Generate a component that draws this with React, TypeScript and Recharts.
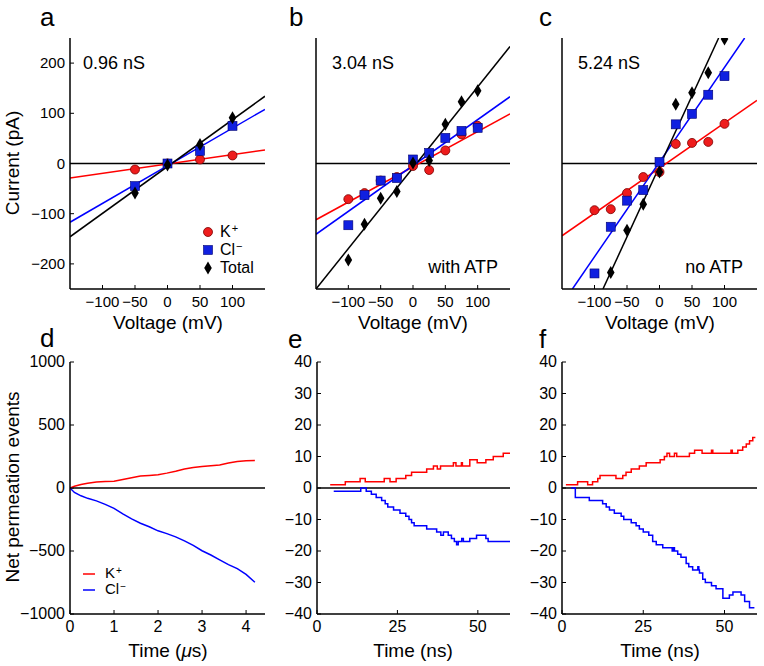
import React from 'react';
import { ComposedChart, LineChart, Line, Scatter, XAxis, YAxis, ReferenceLine, Legend } from 'recharts';

const FONT = '"Liberation Sans", Arial, Helvetica, sans-serif';
const RED = '#ff0000';
const BLUE = '#0000ff';

// ---- I-V data (current in pA vs voltage in mV) ----
const A_VOLTS = [-50, 0, 50, 100];
const A_K = [-12, 0, 8, 16];
const A_CL = [-45, 0, 25, 75];
const A_TOTAL = [-59, -3, 38, 91];

const IV_VOLTS = [-100, -75, -50, -25, 0, 25, 50, 75, 100];
const B_K = [-71, -59, -34, -27, -5, -13, 26, 58, 75];
const B_CL = [-123, -63, -34, -29, 8, 21, 51, 65, 71];
const B_TOTAL = [-192, -121, -69, -56, 1, 6, 78, 123, 145];

const C_K = [-93, -91, -59, -27, -17, 39, 41, 43, 79];
const C_CL = [-219, -126, -74, -53, 3, 78, 99, 137, 174];
const C_TOTAL_VOLTS = [-75, -50, -25, 0, 25, 50, 75, 100];
const C_TOTAL = [-217, -133, -81, -17, 118, 141, 181, 248];

// fitted lines: end voltages and end currents
const FIT_V = [-150, 150];
const A_FIT_K = [-29, 27];
const A_FIT_CL = [-117, 108];
const A_FIT_TOTAL = [-146, 134];
const B_FIT_K = [-112, 99];
const B_FIT_CL = [-141, 133];
const B_FIT_TOTAL = [-250, 233];
const C_FIT_K = [-144, 126];
const C_FIT_CL_V = [-134, 131];
const C_FIT_CL = [-250, 250];
const C_FIT_TOTAL_V = [-87, 91];
const C_FIT_TOTAL = [-250, 250];

// ---- net permeation events ----
const D_TIME = [0, 0.1, 0.25, 0.4, 0.6, 0.8, 1.0, 1.2, 1.4, 1.6, 1.8, 2.0, 2.2, 2.4, 2.6, 2.8, 3.0, 3.2, 3.4, 3.6, 3.8, 4.0, 4.2];
const D_K = [0, 14, 28, 38, 48, 52, 53, 68, 82, 95, 100, 106, 118, 133, 150, 162, 170, 177, 183, 198, 210, 216, 218];
const D_CL = [0, -35, -62, -82, -102, -130, -162, -205, -245, -280, -308, -340, -362, -388, -420, -456, -498, -532, -570, -608, -640, -686, -748];

const E_K_T = [4.1, 8.8, 13.4, 15.0, 20.9, 22.7, 24.6, 27.6, 29.4, 34.1, 36.2, 37.4, 38.4, 42.4, 43.2, 44.9, 45.2, 47.5, 49.8, 52.5, 54.8, 57.9, 60];
const E_K = [1, 2, 3, 2, 3, 2, 3, 4, 5, 6, 7, 6, 7, 8, 7, 8, 7, 9, 8, 9, 10, 11, 11];
const E_CL_T = [5.2, 13.6, 15.3, 16.9, 18.4, 20.1, 21.2, 22, 23.8, 25.8, 27.6, 28.6, 29.4, 30.2, 34.1, 37.2, 38.5, 39.3, 40.8, 41.8, 42.7, 43.4, 43.9, 45, 45.5, 47.5, 49.6, 52.5, 53.2, 60];
const E_CL = [-1, 0, -1, -2, -3, -4, -5, -6, -7, -8, -9, -10, -11, -12, -13, -14, -15, -14, -15, -16, -17, -18, -17, -16, -17, -16, -15, -16, -17, -17];

const F_K_T = [1.2, 4.8, 7.9, 9.4, 11, 11.7, 16.6, 18.7, 19.7, 21.3, 23.8, 25.9, 30.2, 31.5, 32.3, 33.1, 34.6, 35.3, 39.2, 40.8, 43.1, 46, 46.4, 52, 52.4, 53.6, 54.1, 55.6, 56.7, 57.7, 58.7, 59.5];
const F_K = [1, 2, 1, 2, 3, 4, 3, 4, 5, 6, 7, 8, 9, 10, 11, 10, 11, 10, 11, 12, 11, 12, 11, 12, 11, 11, 12, 13, 14, 15, 16, 16];
const F_CL_T = [2.8, 4.1, 8.4, 12.5, 13.6, 14.6, 16.1, 18.2, 19, 21.3, 22.8, 23.8, 25, 26.7, 27.9, 29, 31, 33.9, 34.3, 34.6, 35.6, 36.6, 38.2, 39, 40.2, 41.8, 42.1, 42.3, 43.3, 44.1, 46, 47.4, 49.5, 51.5, 52.6, 55.1, 56.2, 57.7, 59.2];
const F_CL = [0, -3, -4, -5, -6, -7, -8, -9, -10, -11, -12, -13, -14, -15, -17, -18, -19, -20, -19, -20, -21, -22, -24, -25, -26, -25, -26, -27, -29, -30, -31, -32, -35, -34, -33, -34, -36, -38, -38];

// tick labels
const IV_X_TICKS = [-100, -50, 0, 50, 100];
const IV_Y_TICKS = [-200, -100, 0, 100, 200];
const D_X_TICKS = [0, 1, 2, 3, 4];
const D_Y_TICKS = [-1000, -500, 0, 500, 1000];
const NS_X_TICKS = [0, 25, 50];
const NS_Y_TICKS = [-40, -30, -20, -10, 0, 10, 20, 30, 40];

const ION_NAMES = ['K', 'Cl', 'Total'];
const ION_CHARGES = ['+', '\u2212', ''];

const pts = (xs: number[], ys: number[]) => xs.map((x, i) => ({ x, y: ys[i] }));
const fmt = (v: number) => String(v).replace('-', '\u2212');

const XTick = (p: any) => {
  const { x, y, payload, size } = p;
  return (
    <g>
      <line x1={x} x2={x} y1={y - 6} y2={y - 10} stroke="#000" strokeWidth={1} />
      <text x={x} y={y + 12} textAnchor="middle" fontSize={size} fontFamily={FONT} fill="#000">
        {fmt(payload.value)}
      </text>
    </g>
  );
};

const YTick = (p: any) => {
  const { x, y, payload, size } = p;
  return (
    <g>
      <line x1={x + 6} x2={x + 10} y1={y} y2={y} stroke="#000" strokeWidth={1} />
      <text x={x + 1} y={y + 5} textAnchor="end" fontSize={size} fontFamily={FONT} fill="#000">
        {fmt(payload.value)}
      </text>
    </g>
  );
};

const Dot = ({ cx, cy }: any) => <circle cx={cx} cy={cy} r={4.5} fill="#ee1c1c" stroke="#7a0000" strokeWidth={0.8} />;
const Square = ({ cx, cy }: any) => (
  <rect x={cx - 4.5} y={cy - 4.5} width={9} height={9} fill="#1020e0" stroke="#000070" strokeWidth={0.6} />
);
const Diamond = ({ cx, cy }: any) => (
  <path d={`M${cx},${cy - 6.5}L${cx + 3.8},${cy}L${cx},${cy + 6.5}L${cx - 3.8},${cy}Z`} fill="#000" />
);
const MARKERS = [Dot, Square, Diamond];

const IVLegend = () => (
  <div style={{ fontFamily: FONT, fontSize: 16, color: '#000' }}>
    {ION_NAMES.map((name, i) => {
      const M = MARKERS[i];
      return (
        <div key={name} style={{ display: 'flex', alignItems: 'center', height: 18 }}>
          <svg width={16} height={18} style={{ marginLeft: 14 }}>
            <M cx={8} cy={9} />
          </svg>
          <span style={{ marginLeft: 4, lineHeight: '18px' }}>
            {name}
            <span style={{ fontSize: 11, position: 'relative', top: -5, marginLeft: 1 }}>{ION_CHARGES[i]}</span>
          </span>
        </div>
      );
    })}
  </div>
);

const TraceLegend = () => (
  <div style={{ fontFamily: FONT, fontSize: 15, color: '#000' }}>
    {[RED, BLUE].map((c, i) => (
      <div key={c} style={{ display: 'flex', alignItems: 'center', height: 16 }}>
        <svg width={12} height={16}>
          <line x1={0} x2={12} y1={8} y2={8} stroke={c} strokeWidth={1.5} />
        </svg>
        <span style={{ marginLeft: 10, lineHeight: '16px' }}>
          {ION_NAMES[i]}
          <span style={{ fontSize: 10, position: 'relative', top: -4, marginLeft: 1 }}>{ION_CHARGES[i]}</span>
        </span>
      </div>
    ))}
  </div>
);

const AXIS = { stroke: '#000', strokeWidth: 1.5 };

type Fit = { data: { x: number; y: number }[]; color: string };

function IVPanel(props: {
  left: number; plotW: number; k: any[]; cl: any[]; tot: any[]; fits: Fit[]; yTicks?: boolean; legend?: boolean;
}) {
  const { left, plotW, k, cl, tot, fits, yTicks, legend } = props;
  const top = 38;
  return (
    <div style={{ position: 'absolute', left: left - 56, top: top - 30 }}>
      <ComposedChart width={plotW + 62} height={251 + 70} margin={{ top: 30, right: 6, bottom: 10, left: 6 }}>
        <XAxis
          type="number" dataKey="x" domain={[-150, 150]} ticks={IV_X_TICKS} allowDataOverflow interval={0}
          height={30} axisLine={AXIS} tickLine={false} tickSize={0} tickMargin={6}
          tick={(p: any) => <XTick {...p} size={15} />}
        />
        <YAxis
          type="number" dataKey="y" domain={[-250, 250]} ticks={IV_Y_TICKS} allowDataOverflow interval={0}
          width={50} axisLine={AXIS} tickLine={false} tickSize={0} tickMargin={6}
          tick={yTicks ? (p: any) => <YTick {...p} size={15} /> : false}
        />
        <ReferenceLine y={0} stroke="#000" strokeWidth={1.5} />
        {fits.map((f, i) => (
          <Line key={i} data={f.data} dataKey="y" type="linear" stroke={f.color} strokeWidth={1.5}
            dot={false} legendType="none" isAnimationActive={false} />
        ))}
        <Scatter name="K+" data={k} shape={Dot} isAnimationActive={false} />
        <Scatter name="Cl-" data={cl} shape={Square} isAnimationActive={false} />
        <Scatter name="Total" data={tot} shape={Diamond} isAnimationActive={false} />
        {legend && (
          <Legend layout="vertical" align="center" verticalAlign="middle"
            wrapperStyle={{ left: 172, top: 215, width: 80, height: 54 }} content={() => <IVLegend />} />
        )}
      </ComposedChart>
    </div>
  );
}

function TracePanel(props: {
  left: number; plotW: number; xMax: number; xTicks: number[]; yMax: number; yTicks: number[];
  k: any[]; cl: any[]; step?: boolean; legend?: boolean;
}) {
  const { left, plotW, xMax, xTicks, yMax, yTicks, k, cl, step, legend } = props;
  const top = 362;
  const type = step ? 'stepAfter' : 'linear';
  return (
    <div style={{ position: 'absolute', left: left - 56, top: top - 30 }}>
      <LineChart width={plotW + 62} height={252 + 70} margin={{ top: 30, right: 6, bottom: 10, left: 6 }}>
        <XAxis
          type="number" dataKey="x" domain={[0, xMax]} ticks={xTicks} allowDataOverflow interval={0}
          height={30} axisLine={AXIS} tickLine={false} tickSize={0} tickMargin={6}
          tick={(p: any) => <XTick {...p} size={16} />}
        />
        <YAxis
          type="number" dataKey="y" domain={[-yMax, yMax]} ticks={yTicks} allowDataOverflow interval={0}
          width={50} axisLine={AXIS} tickLine={false} tickSize={0} tickMargin={6}
          tick={(p: any) => <YTick {...p} size={16} />}
        />
        <ReferenceLine y={0} stroke="#000" strokeWidth={1.5} />
        <Line data={k} dataKey="y" type={type} stroke={RED} strokeWidth={1.5} dot={false} isAnimationActive={false} />
        <Line data={cl} dataKey="y" type={type} stroke={BLUE} strokeWidth={1.5} dot={false} isAnimationActive={false} />
        {legend && (
          <Legend layout="vertical" align="center" verticalAlign="middle"
            wrapperStyle={{ left: 69, top: 234, width: 70, height: 32 }} content={() => <TraceLegend />} />
        )}
      </LineChart>
    </div>
  );
}

export default function App() {
  const txt = { fontFamily: FONT, fill: '#000' };
  return (
    <div style={{ position: 'absolute', left: 0, top: 0, width: 764, height: 666, background: '#fff', overflow: 'hidden' }}>
      <IVPanel
        left={70} plotW={195} yTicks legend
        k={pts(A_VOLTS, A_K)} cl={pts(A_VOLTS, A_CL)} tot={pts(A_VOLTS, A_TOTAL)}
        fits={[
          { data: pts(FIT_V, A_FIT_K), color: RED },
          { data: pts(FIT_V, A_FIT_CL), color: BLUE },
          { data: pts(FIT_V, A_FIT_TOTAL), color: '#000' },
        ]}
      />
      <IVPanel
        left={316} plotW={194}
        k={pts(IV_VOLTS, B_K)} cl={pts(IV_VOLTS, B_CL)} tot={pts(IV_VOLTS, B_TOTAL)}
        fits={[
          { data: pts(FIT_V, B_FIT_K), color: RED },
          { data: pts(FIT_V, B_FIT_CL), color: BLUE },
          { data: pts(FIT_V, B_FIT_TOTAL), color: '#000' },
        ]}
      />
      <IVPanel
        left={562} plotW={195}
        k={pts(IV_VOLTS, C_K)} cl={pts(IV_VOLTS, C_CL)} tot={pts(C_TOTAL_VOLTS, C_TOTAL)}
        fits={[
          { data: pts(FIT_V, C_FIT_K), color: RED },
          { data: pts(C_FIT_CL_V, C_FIT_CL), color: BLUE },
          { data: pts(C_FIT_TOTAL_V, C_FIT_TOTAL), color: '#000' },
        ]}
      />
      <TracePanel
        left={70} plotW={195} xMax={4.43} xTicks={D_X_TICKS} yMax={1000} yTicks={D_Y_TICKS}
        k={pts(D_TIME, D_K)} cl={pts(D_TIME, D_CL)} legend
      />
      <TracePanel
        left={317} plotW={193} xMax={60} xTicks={NS_X_TICKS} yMax={40} yTicks={NS_Y_TICKS}
        k={pts(E_K_T, E_K)} cl={pts(E_CL_T, E_CL)} step
      />
      <TracePanel
        left={562} plotW={195} xMax={60} xTicks={NS_X_TICKS} yMax={40} yTicks={NS_Y_TICKS}
        k={pts(F_K_T, F_K)} cl={pts(F_CL_T, F_CL)} step
      />
      <svg width={764} height={666} style={{ position: 'absolute', left: 0, top: 0, pointerEvents: 'none' }}>
        <g fontSize={26} {...txt}>
          <text x={40} y={26}>a</text>
          <text x={289} y={26}>b</text>
          <text x={539} y={26}>c</text>
          <text x={40} y={347}>d</text>
          <text x={288} y={348}>e</text>
          <text x={539} y={348}>f</text>
        </g>
        <g fontSize={18} {...txt}>
          <text x={83} y={69}>0.96 nS</text>
          <text x={332} y={69}>3.04 nS</text>
          <text x={578} y={69}>5.24 nS</text>
          <text x={498} y={273} textAnchor="end">with ATP</text>
          <text x={743} y={273} textAnchor="end">no ATP</text>
        </g>
        <g fontSize={19} {...txt}>
          <text x={168} y={329} textAnchor="middle">Voltage (mV)</text>
          <text x={413} y={329} textAnchor="middle">Voltage (mV)</text>
          <text x={660} y={329} textAnchor="middle">Voltage (mV)</text>
          <text x={168} y={657} textAnchor="middle">Time (<tspan fontStyle="italic">μ</tspan>s)</text>
          <text x={413} y={657} textAnchor="middle">Time (ns)</text>
          <text x={660} y={657} textAnchor="middle">Time (ns)</text>
          <text x={19} y={163} textAnchor="middle" transform="rotate(-90 19 163)">Current (pA)</text>
          <text x={19} y={487} textAnchor="middle" transform="rotate(-90 19 487)">Net permeation events</text>
        </g>
      </svg>
    </div>
  );
}
